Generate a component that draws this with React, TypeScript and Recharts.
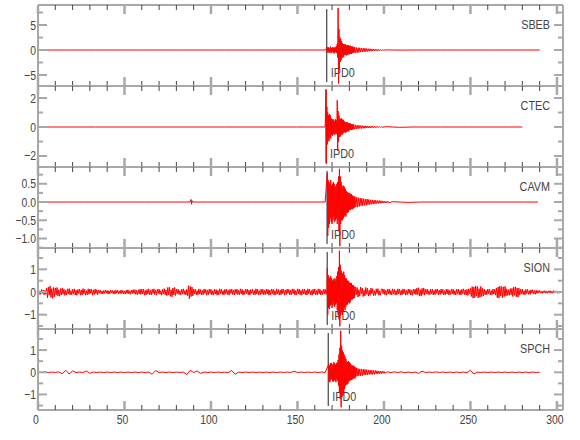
import { LineChart, Line, XAxis, YAxis, ReferenceLine } from 'recharts';

type Seg = { t0: number; dt: number; v: number[] };

const FONT = '"Liberation Sans", Arial, sans-serif';

// time axis (s)
const timeTicks = [0, 10, 20, 30, 40, 50, 60, 70, 80, 90, 100, 110, 120, 130, 140, 150, 160, 170, 180, 190, 200, 210, 220, 230, 240, 250, 260, 270, 280, 290, 300];
const timeDomain: [number, number] = [0, 303.5];

const stationNames = ['SBEB', 'CTEC', 'CAVM', 'SION', 'SPCH'];
const pickTimes = [166.9, 166.5, 167.1, 167.2, 167.8];
const pickLabel = 'IPD0';

const yDomains: [number, number][] = [[-7.2, 9], [-2.76, 2.83], [-1.26, 0.96], [-1.63, 1.94], [-1.7, 1.95]];
const yTicks = [
  [-5, -2.5, 0, 2.5, 5, 7.5],
  [-2, -1, 0, 1, 2],
  [-1.25, -1, -0.75, -0.5, -0.25, 0, 0.25, 0.5, 0.75],
  [-1.5, -1, -0.5, 0, 0.5, 1, 1.5],
  [-1.5, -1, -0.5, 0, 0.5, 1, 1.5],
];
const yMajor = [5, 2, 0.5, 1, 1];
const yDigits = [0, 0, 1, 0, 0];

// traces, as runs of samples (start time, step, values)
const sbeb: Seg[] = [
  { t0: 0, dt: 8.3, v: [0, 0, 0, 0, 0, 0, 0, 0, 0, 0, 0, 0, 0, 0, 0, 0, 0, 0, 0, 0, 0] },
  { t0: 167, dt: 0.25, v: [
    0.4, -0.5, 0.6, -0.3, 0.5, -0.6, 0.3, -0.4, 0.7, -0.5, 0.4, -0.6, 0.5, -0.3, 0.6, -0.5, 0.4, -0.7, 0.5, -0.4, 0.6, -0.5, 0.8, -0.6, 1.2, -1.5,
    8.4, -6.7, 4.2, -3.8, 2.6, -2.4, 2.2, -2.0, 1.8, -1.6, 1.4, -1.5, 1.2, -1.3, 1.1, -1.0, 1.2, -0.9,
    1.0, -1.1, 0.9, -1.0, 1.0, -0.8, 0.9, -0.9, 0.8, -0.8, 0.9, -0.7, 0.7, -0.8, 0.7, -0.6, 0.7, -0.6, 0.5, -0.5] },
  { t0: 183, dt: 0.5, v: [0.6, -0.55, 0.5, -0.55, 0.45, -0.5, 0.45, -0.4, 0.4, -0.4, 0.35, -0.35, 0.35, -0.3, 0.3, -0.3, 0.25, -0.25, 0.25, -0.2, 0.2, -0.2, 0.18, -0.16, 0.16, -0.15, 0.14, -0.13, 0.12, -0.12, 0.1, -0.1, 0.08, -0.08] },
  { t0: 201, dt: 8.9, v: [0.02, -0.02, 0, 0, 0, 0, 0, 0, 0, 0, 0] },
];

const ctec: Seg[] = [
  { t0: 0, dt: 8.3, v: [0, 0, 0, 0, 0, 0, 0, 0, 0, 0, 0, 0, 0, 0, 0, 0, 0, 0, 0, 0, 0] },
  { t0: 166.5, dt: 0.25, v: [
    2.6, -2.55, 1.4, -1.2, 1.0, -0.9, 0.8, -1.0, 0.9, -0.7, 0.8, -0.8, 0.6, -0.55, 0.5, -0.6, 0.55, -0.45, 0.5, -0.55, 0.4, -0.5, 0.55, -0.4, 0.45, -0.5,
    1.85, -1.65, 1.1, -1.0, 0.8, -0.7, 0.6, -0.65, 0.55, -0.5, 0.6, -0.55, 0.5, -0.45, 0.5, -0.4,
    0.4, -0.35, 0.35, -0.4, 0.3, -0.35, 0.35, -0.3, 0.3, -0.3, 0.25, -0.3, 0.25, -0.2, 0.25, -0.2, 0.2, -0.2, 0.2, -0.18, 0.18, -0.16] },
  { t0: 182.5, dt: 0.5, v: [0.17, -0.15, 0.15, -0.14, 0.12, -0.12, 0.12, -0.1, 0.1, -0.1, 0.09, -0.09, 0.08, -0.09, 0.08, -0.07, 0.07, -0.07, 0.06, -0.06, 0.06, -0.05, 0.05, -0.05, 0.05, -0.04, 0.04, -0.04, 0.04, -0.03, 0.03, -0.03, 0.03, -0.02] },
  { t0: 201, dt: 7.9, v: [0.02, -0.02, 0, 0, 0, 0, 0, 0, 0, 0, 0] },
];

const cavm: Seg[] = [
  { t0: 0, dt: 8.8, v: [0, 0, 0, 0, 0, 0, 0, 0, 0, 0, 0] },
  { t0: 88.5, dt: 0.25, v: [0.07, -0.06, 0.04] },
  { t0: 89.5, dt: 8.5, v: [0, 0, 0, 0, 0, 0, 0, 0, 0, 0] },
  { t0: 167.25, dt: 0.25, v: [
    0.8, -0.93, 0.6, -0.7, 0.55, -0.6, 0.5, -0.45, 0.6, -0.55, 0.45, -0.6, 0.5, -0.5, 0.55, -0.4, 0.5, -0.55, 0.4, -0.5, 0.45, -0.45, 0.5, -0.6, 0.55, -0.5,
    0.7, -0.8, 0.91, -1.21, 0.7, -0.6, 0.55, -0.5, 0.45, -0.5, 0.4, -0.45, 0.45, -0.4, 0.4, -0.35, 0.35, -0.4,
    0.3, -0.3, 0.28, -0.3, 0.25, -0.27, 0.25, -0.22, 0.25, -0.22, 0.2, -0.2, 0.22, -0.18, 0.18, -0.2, 0.16, -0.17, 0.15, -0.15] },
  { t0: 183.25, dt: 0.5, v: [0.15, -0.14, 0.13, -0.14, 0.12, -0.12, 0.11, -0.1, 0.1, -0.1, 0.09, -0.09, 0.08, -0.09, 0.08, -0.07, 0.07, -0.07, 0.06, -0.06, 0.06, -0.05, 0.05, -0.05, 0.05, -0.04, 0.04, -0.04, 0.04, -0.035, 0.035, -0.03, 0.03, -0.03, 0.025, -0.025, 0.02, -0.02, 0.02, -0.02] },
  { t0: 205, dt: 8.4, v: [0.01, -0.01, 0, 0, 0, 0, 0, 0, 0, 0, 0] },
];

const sion: Seg[] = [
  { t0: 0, dt: 0.5, v: [
    0.08, -0.11, 0.05, -0.1, 0.11, -0.06, 0.09, -0.12, 0.07, -0.1,
    0.18, -0.26, 0.22, -0.14, 0.27, -0.24, 0.15, -0.28, 0.2, -0.22,
    0.18, -0.12, 0.2, -0.17, 0.1, -0.19, 0.15, -0.13, 0.18, -0.1,
    0.13, -0.15, 0.07, -0.12, 0.14, -0.09, 0.15, -0.13, 0.06, -0.12,
    0.12, -0.07, 0.14, -0.13, 0.08, -0.15, 0.11, -0.06, 0.13, -0.14,
    0.09, -0.13, 0.15, -0.08, 0.12, -0.14, 0.06, -0.12, 0.14, -0.1,
    0.13, -0.06, 0.12, -0.14, 0.09, -0.11, 0.13, -0.07, 0.1, -0.12,
    0.08, -0.05, 0.09, -0.08, 0.04, -0.09, 0.07, -0.06, 0.09, -0.05,
    0.07, -0.09, 0.05, -0.08, 0.09, -0.04, 0.07, -0.08, 0.06, -0.09,
    0.08, -0.05, 0.09, -0.07, 0.04, -0.08, 0.09, -0.06, 0.07, -0.08,
    0.05, -0.09, 0.08, -0.06, 0.1, -0.08, 0.05, -0.1, 0.09, -0.07,
    0.1, -0.06, 0.11, -0.1, 0.07, -0.12, 0.1, -0.08, 0.12, -0.11,
    0.13, -0.08, 0.12, -0.14, 0.07, -0.13, 0.11, -0.09, 0.14, -0.12,
    0.07, -0.13, 0.12, -0.06, 0.14, -0.11, 0.09, -0.14, 0.12, -0.07,
    0.13, -0.1, 0.06, -0.14, 0.12, -0.08, 0.15, -0.12, 0.09, -0.16,
    0.2, -0.12, 0.22, -0.19, 0.1, -0.21, 0.18, -0.13, 0.2, -0.15,
    0.12, -0.07, 0.13, -0.11, 0.06, -0.13, 0.12, -0.09, 0.14, -0.1,
    0.07, -0.13, 0.12, -0.16, 0.28, -0.3, 0.25, -0.2, 0.22, -0.17,
    0.13, -0.08, 0.12, -0.13, 0.06, -0.12, 0.14, -0.09, 0.11, -0.13,
    0.07, -0.12, 0.13, -0.06, 0.12, -0.14, 0.08, -0.11, 0.13, -0.07,
    0.12, -0.13, 0.06, -0.12, 0.13, -0.09, 0.11, -0.14, 0.07, -0.12,
    0.14, -0.08, 0.12, -0.11, 0.06, -0.13, 0.12, -0.07, 0.13, -0.12,
    0.08, -0.14, 0.12, -0.06, 0.13, -0.11, 0.09, -0.13, 0.12, -0.07,
    0.13, -0.12, 0.07, -0.12, 0.14, -0.08, 0.12, -0.13, 0.06, -0.11,
    0.12, -0.07, 0.13, -0.12, 0.08, -0.13, 0.11, -0.06, 0.13, -0.12,
    0.07, -0.12, 0.14, -0.09, 0.12, -0.13, 0.06, -0.12, 0.13, -0.08,
    0.12, -0.13, 0.07, -0.11, 0.13, -0.09, 0.12, -0.14, 0.08, -0.12,
    0.13, -0.07, 0.12, -0.13, 0.06, -0.12, 0.14, -0.08, 0.11, -0.13,
    0.08, -0.12, 0.13, -0.07, 0.12, -0.14, 0.09, -0.11, 0.13, -0.06,
    0.12, -0.13, 0.08, -0.12, 0.14, -0.07, 0.12, -0.13, 0.06, -0.12,
    0.14, -0.08, 0.13, -0.12, 0.07, -0.14, 0.12, -0.09, 0.13, -0.12,
    0.07, -0.13, 0.14, -0.08, 0.12, -0.13, 0.06, -0.14, 0.12, -0.09,
    0.13, -0.12, 0.07, -0.13, 0.14, -0.08, 0.12, -0.13, 0.06, -0.12,
    0.13, -0.09, 0.12, -0.1] },
  { t0: 167, dt: 0.25, v: [
    0.1, 1.06, -1.0, 0.75, -0.7, 0.6, -0.75, 0.65, -0.6, 0.7, -0.55, 0.6, -0.7, 0.5, -0.6, 0.55, -0.5, 0.6, -0.65, 0.5, -0.55, 0.6, -0.5, 0.7, -0.8, 0.9,
    -1.0, 1.1, -1.2, 1.82, -1.51, 1.2, -1.0, 0.95, -0.9, 0.85, -1.0, 0.8, -0.85, 0.9, -0.7, 0.75, -0.8, 0.6, -0.65,
    0.6, -0.55, 0.5, -0.55, 0.5, -0.45, 0.45, -0.5, 0.4, -0.45, 0.4, -0.35, 0.4, -0.35, 0.3, -0.3, 0.3, -0.28, 0.25] },
  { t0: 183, dt: 0.5, v: [-0.25, 0.22, -0.12, 0.2, -0.22, 0.1, -0.18, 0.22, -0.09, 0.18, -0.2, 0.08, -0.17, 0.2, -0.1, 0.16, -0.18, 0.07, -0.15, 0.17, -0.08, 0.15, -0.16, 0.06, -0.15, 0.14, -0.07, 0.15, -0.14, 0.06, -0.14, 0.12] },
  { t0: 199, dt: 0.5, v: [
    0.14, -0.08, 0.13, -0.12, 0.07, -0.14, 0.12, -0.09, 0.13, -0.11,
    0.07, -0.13, 0.14, -0.08, 0.12, -0.13, 0.06, -0.12, 0.14, -0.09,
    0.13, -0.12, 0.07, -0.13, 0.14, -0.08, 0.12, -0.14, 0.07, -0.12,
    0.13, -0.07, 0.12, -0.13, 0.08, -0.14, 0.12, -0.08, 0.13, -0.12,
    0.17, -0.12, 0.19, -0.17, 0.1, -0.18, 0.16, -0.11, 0.18, -0.14,
    0.12, -0.07, 0.13, -0.11, 0.06, -0.12, 0.13, -0.08, 0.12, -0.13,
    0.07, -0.12, 0.13, -0.06, 0.12, -0.13, 0.08, -0.11, 0.13, -0.07,
    0.12, -0.13, 0.06, -0.12, 0.13, -0.09, 0.12, -0.13, 0.07, -0.11,
    0.13, -0.08, 0.12, -0.12, 0.06, -0.13, 0.12, -0.07, 0.13, -0.12,
    0.08, -0.13, 0.12, -0.07, 0.14, -0.12, 0.09, -0.13, 0.12, -0.15,
    0.14, -0.09, 0.16, -0.2, 0.24, -0.27, 0.22, -0.25, 0.27, -0.18,
    0.24, -0.26, 0.15, -0.23, 0.25, -0.2, 0.16, -0.18, 0.13, -0.12,
    0.07, -0.12, 0.13, -0.08, 0.12, -0.13, 0.06, -0.12, 0.13, -0.09,
    0.12, -0.14, 0.18, -0.25, 0.22, -0.27, 0.26, -0.18, 0.24, -0.26,
    0.23, -0.2, 0.25, -0.17, 0.14, -0.15, 0.1, -0.14, 0.15, -0.12,
    0.16, -0.2, 0.22, -0.15, 0.23, -0.21, 0.18, -0.22, 0.17, -0.14,
    0.12, -0.08, 0.13, -0.11, 0.06, -0.12, 0.11, -0.07, 0.12, -0.1,
    0.06, -0.11, 0.1, -0.05, 0.1, -0.09, 0.06, -0.1, 0.08, -0.07,
    0.06, -0.04, 0.07, -0.05, 0.03, -0.06, 0.05, -0.03, 0.06, -0.05,
    0.04, -0.06, 0.05, -0.03, 0.06, -0.05, 0.03, -0.05, 0.06, -0.04,
    0.05, -0.03, 0.05, -0.06, 0.04, -0.05, 0.03, -0.04, 0.03] },
];

const spch: Seg[] = [
  { t0: 0, dt: 2, v: [
    0.01, -0.01, 0.01, -0.01, 0.01, -0.01, 0.02,
    -0.07, 0.09, -0.08, 0.06,
    -0.01, 0.01, -0.01,
    0.06, -0.05,
    0.01, -0.01, 0.01, -0.01, 0.01, -0.01, 0.01, -0.01, 0.01, -0.01, 0.01, -0.01, 0.01, -0.01, 0.01, -0.01, 0.01,
    -0.09, 0.08,
    -0.01, 0.01, -0.01, 0.01, -0.01, 0.01, -0.01, 0.01,
    -0.1, 0.09,
    -0.01,
    0.06, -0.05,
    0.01, -0.01, 0.01, -0.01, 0.01, -0.01, 0.01, -0.02,
    0.08, -0.09,
    0.01, -0.01, 0.01, -0.01, 0.01, -0.01, 0.01, -0.01, 0.01, -0.01, 0.01, -0.01, 0.01, -0.01, 0.01, -0.01,
    0.05,
    -0.01, 0.01, -0.01, 0.01, -0.01, 0.01, -0.01, 0.01, -0.01] },
  { t0: 168, dt: 0.25, v: [
    0.35, -0.4, 0.3, -0.45, 0.4, -0.35, 0.42, -0.3, 0.38, -0.4, 0.3, -0.42, 0.45, -0.35, 0.4, -0.38, 0.35, -0.45, 0.4, -0.3, 0.45, -0.4,
    0.55, -0.6, 0.8, -0.9, 1.1, -1.2, 1.87, -1.58, 1.2, -1.1, 1.0, -1.05, 0.9, -0.95, 0.8, -0.75, 0.7, -0.6,
    0.6, -0.55, 0.5, -0.55, 0.45, -0.5, 0.5, -0.4, 0.45, -0.4, 0.4, -0.35, 0.35, -0.35, 0.3, -0.32, 0.3, -0.28, 0.3, -0.25, 0.25, -0.28, 0.22, -0.2] },
  { t0: 184, dt: 0.5, v: [0.2, -0.18, 0.18, -0.16, 0.15, -0.16, 0.14, -0.15, 0.14, -0.12, 0.13, -0.12, 0.12, -0.11, 0.1, -0.1, 0.1, -0.09, 0.09, -0.1, 0.08, -0.09, 0.08, -0.07, 0.07, -0.07, 0.06, -0.06, 0.05, -0.06, 0.05, -0.04, 0.04, -0.04] },
  { t0: 202, dt: 2, v: [
    0.02, -0.02, 0.02, -0.01, 0.02, -0.02, 0.01, -0.02, 0.01,
    -0.05, 0.05,
    -0.01, 0.01, -0.01, 0.02, -0.01, 0.01, -0.01, 0.01, -0.01, 0.01, -0.01, 0.01, -0.02,
    0.09, -0.08,
    0.01, -0.01, 0.01, -0.01, 0.01, -0.01, 0.01, -0.01, 0.01, -0.01, 0.01, -0.01, 0.01, -0.01, 0.01, -0.01, 0.01, -0.01, 0] },
];

const traces = [sbeb, ctec, cavm, sion, spch];

const panelTops = [5, 86, 167, 248, 329];
const panelH = 81;

function build(segs: Seg[]) {
  const out: { t: number; v: number }[] = [];
  segs.forEach(s => s.v.forEach((v, i) => out.push({ t: +(s.t0 + i * s.dt).toFixed(3), v })));
  return out;
}

const gray = '#a8a8a8';
const TINY = 0.001;
const onStep = (v: number, step: number) => Math.abs(v / step - Math.round(v / step)) < 1e-6;
const fmt = (v: number, digits: number) => {
  const s = digits ? v.toFixed(digits) : String(v);
  return s.replace('-', '\u2212');
};

// narrow text: the reference uses a condensed face
function NText({ x, y, anchor, size, children }: { x: number; y: number; anchor: string; size: number; children: any }) {
  return (
    <g transform={`translate(${x},${y}) scale(0.8,1)`}>
      <text x={0} y={0} textAnchor={anchor as any} fontSize={size} fill="#444" fontFamily={FONT}>{children}</text>
    </g>
  );
}

function timeTick(dir: number, withLabel: boolean) {
  return (p: any) => {
    const v = p.payload.value;
    const major = v % 50 === 0;
    return (
      <g>
        <line x1={p.x} x2={p.x} y1={p.y} y2={p.y + dir * (major ? 9 : 5)}
          stroke={major ? gray : '#444'} strokeWidth={major ? 2.5 : 1} />
        {withLabel && major && <NText x={p.x - 2} y={p.y + 14} anchor="middle" size={13}>{v}</NText>}
      </g>
    );
  };
}

function ampTick(side: 'l' | 'r', step: number, digits: number) {
  return (p: any) => {
    const v = p.payload.value;
    const major = onStep(v, step);
    const d = side === 'l' ? 1 : -1;
    return (
      <g>
        <line x1={p.x} x2={p.x + d * (major ? 9 : 5)} y1={p.y} y2={p.y} stroke={gray} strokeWidth={2} />
        {side === 'l' && major && <NText x={p.x - 2} y={p.y + 4.5} anchor="end" size={13}>{fmt(v, digits)}</NText>}
      </g>
    );
  };
}

function Panel({ idx }: { idx: number }) {
  const last = idx === stationNames.length - 1;
  const top = panelTops[idx];
  const [lo, hi] = yDomains[idx];
  const span = hi - lo;
  const pick = pickTimes[idx];
  const data = build(traces[idx]);
  const border = { stroke: gray, strokeWidth: 2 };
  return (
    <>
      <div style={{ position: 'absolute', left: 0, top: top - 3 }}>
        <LineChart width={580} height={panelH + 3 + (last ? 30 : 3)} data={data}
          margin={{ top: 2, right: 0, bottom: last ? 29 : 2, left: 0 }}>
          <XAxis xAxisId="b" dataKey="t" type="number" domain={timeDomain} allowDataOverflow ticks={timeTicks}
            interval={0} orientation="bottom" height={1} tickSize={TINY} tickMargin={TINY} axisLine={border}
            tickLine={false} tick={timeTick(-1, last)} />
          <XAxis xAxisId="t" dataKey="t" type="number" domain={timeDomain} allowDataOverflow ticks={timeTicks}
            interval={0} orientation="top" height={1} tickSize={TINY} tickMargin={TINY} axisLine={border}
            tickLine={false} tick={timeTick(1, false)} />
          <YAxis yAxisId="l" type="number" domain={[lo, hi]} allowDataOverflow ticks={yTicks[idx]} interval={0}
            width={38} tickSize={TINY} tickMargin={TINY} axisLine={border} tickLine={false}
            tick={ampTick('l', yMajor[idx], yDigits[idx])} />
          <YAxis yAxisId="r" orientation="right" type="number" domain={[lo, hi]} allowDataOverflow ticks={yTicks[idx]}
            interval={0} width={17} tickSize={TINY} tickMargin={TINY} axisLine={border} tickLine={false}
            tick={ampTick('r', yMajor[idx], yDigits[idx])} />
          <ReferenceLine xAxisId="b" yAxisId="l"
            segment={[{ x: pick, y: hi - span * 0.05 }, { x: pick, y: lo + span * 0.05 }]}
            stroke="#444" strokeWidth={1.2}
            label={{
              content: (lp: any) => {
                const vb = lp.viewBox || {};
                return <NText x={vb.x + 4} y={vb.y + vb.height - 5} anchor="start" size={13.5}>{pickLabel}</NText>;
              },
            }} />
          <Line xAxisId="b" yAxisId="l" type="linear" dataKey="v" stroke="#ff0000" strokeWidth={1}
            dot={false} activeDot={false} isAnimationActive={false} />
        </LineChart>
      </div>
      <div style={{
        position: 'absolute', left: 0, width: 550, top: top + 13, textAlign: 'right',
        fontFamily: FONT, fontSize: 13.5, lineHeight: '14px', color: '#444',
        transform: 'scaleX(0.8)', transformOrigin: '550px 0',
      }}>
        {stationNames[idx]}
      </div>
    </>
  );
}

export default function App() {
  return (
    <div style={{ position: 'absolute', left: 0, top: 0, width: 580, height: 440, background: '#fff' }}>
      {stationNames.map((_, i) => <Panel key={i} idx={i} />)}
    </div>
  );
}
